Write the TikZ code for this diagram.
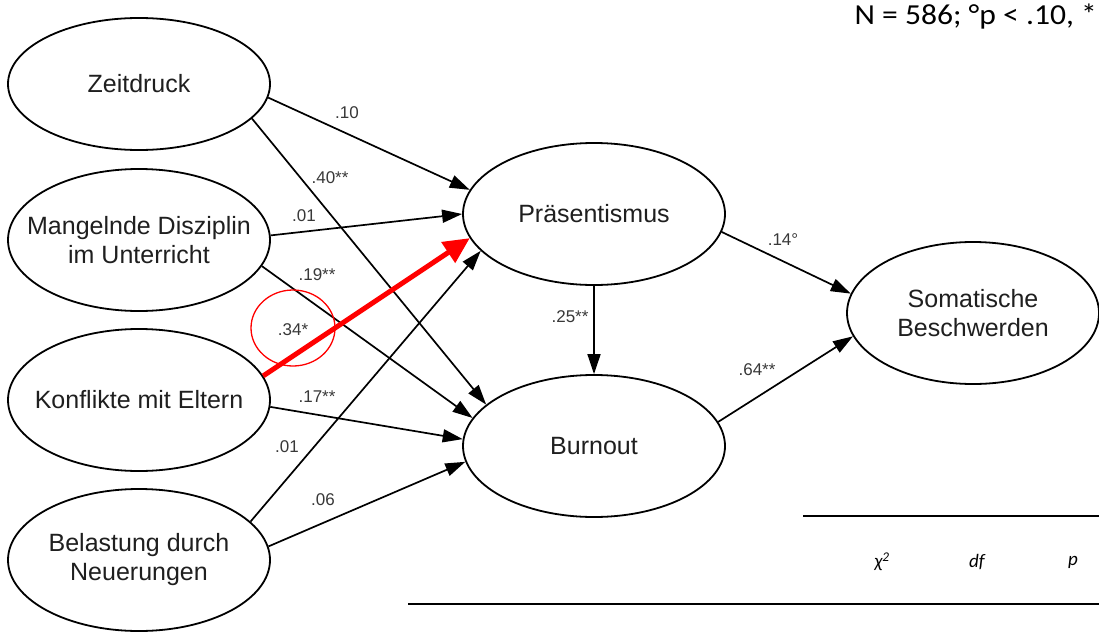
\documentclass[tikz,border=0pt]{standalone}
\usepackage{fontspec}
\setmainfont{Liberation Sans}
\newfontfamily\calib{Carlito}
\usetikzlibrary{shapes.geometric,arrows.meta}
\begin{document}
\begin{tikzpicture}[x=1pt,y=-1pt,
  ell/.style={ellipse,draw=black,line width=1.8pt,minimum width=262pt,minimum height=142pt,inner sep=0pt},
  nt/.style={font=\fontsize{25}{29}\selectfont,align=center,text=black!88,inner sep=0pt},
  coef/.style={font=\fontsize{17}{20}\selectfont,text=black!78,inner sep=0pt},
  arr/.style={line width=1.7pt,-{Triangle[length=20pt,width=13pt]}},
  redarr/.style={red,line width=5pt,-{Triangle[length=26pt,width=24pt]}},
  rule/.style={line width=1.5pt},
  tabh/.style={font=\calib\itshape\fontsize{19}{22}\selectfont,inner sep=0pt}
]
\useasboundingbox (0,0) rectangle (1099,634);
\fill[white] (0,0) rectangle (1099,634);

% latent variables
\node[ell,minimum height=132pt] (zeit) at (139,84) {};
\node[ell] (mang) at (139,240) {};
\node[ell] (konf) at (139,400) {};
\node[ell] (bel)  at (139,560) {};
\node[ell] (prae) at (594,214) {};
\node[ell] (burn) at (594,446) {};
\node[ell,minimum width=252pt] (som) at (973,313) {};

\node[nt] (zeitT) at (zeit) {Zeitdruck};
\node[nt] (mangT) at (mang) {Mangelnde Disziplin\\im Unterricht};
\node[nt] (konfT) at (konf) {Konflikte mit Eltern};
\node[nt] (belT)  at (bel)  {Belastung durch\\Neuerungen};
\node[nt] (praeT) at (prae) {Präsentismus};
\node[nt] (burnT) at (burn) {Burnout};
\node[nt] (somT)  at (som)  {Somatische\\Beschwerden};

% paths
\draw[arr] (zeit.-6) -- (prae.169.5);
\draw[arr] (zeit.-17) -- (burn.159.7);
\draw[arr] (mang.2.2) -- (prae.180.5);
\draw[arr] (mang.-12) -- (burn.167.5);
\draw[arr] (konf.-3.5) -- (burn.177.4);
\draw[arr] (bel.19.8) -- (prae.198.7);
\draw[arr] (bel.6.6) -- (burn.187.5);
\draw[arr] (prae.south) -- (burn.north);
\draw[arr] (prae.-8.6) -- (som.171.5);
\draw[arr] (burn.11) -- (som.191.3);
\draw[redarr] (konf.11.4) -- (prae.191.8);

% coefficients
\node[coef] (c1) at (347,113) {.10};
\node[coef] (c2) at (330,178) {.40**};
\node[coef] (c3) at (304,216) {.01};
\node[coef] (c4) at (317,275) {.19**};
\node[coef] (c5) at (293,330) {.34*};
\node[coef] (c6) at (317,397) {.17**};
\node[coef] (c7) at (287,447) {.01};
\node[coef] (c8) at (323,500) {.06};
\node[coef] (c9) at (570,317) {.25**};
\node[coef] (c10) at (783,240) {.14°};
\node[coef] (c11) at (757,370) {.64**};

\node[ellipse,draw=red,line width=1.3pt,minimum width=84pt,minimum height=76pt,inner sep=0pt] (circ) at (293,328) {};

% header
\node[anchor=east,inner sep=0pt,font=\calib\fontsize{29}{32}\selectfont] (head) at (1097,17) {\scalebox{1.09}[1]{N = 586; °p < .10, *}};

% fit table
\draw[rule] (803,516) -- (1099,516);
\draw[rule] (408,604) -- (1099,604);
\node[tabh] (chi) at (882,562) {χ\textsuperscript{2}};
\node[tabh] (df) at (977,562) {df};
\node[tabh] (pp) at (1073,562) {p};
\end{tikzpicture}
\end{document}
